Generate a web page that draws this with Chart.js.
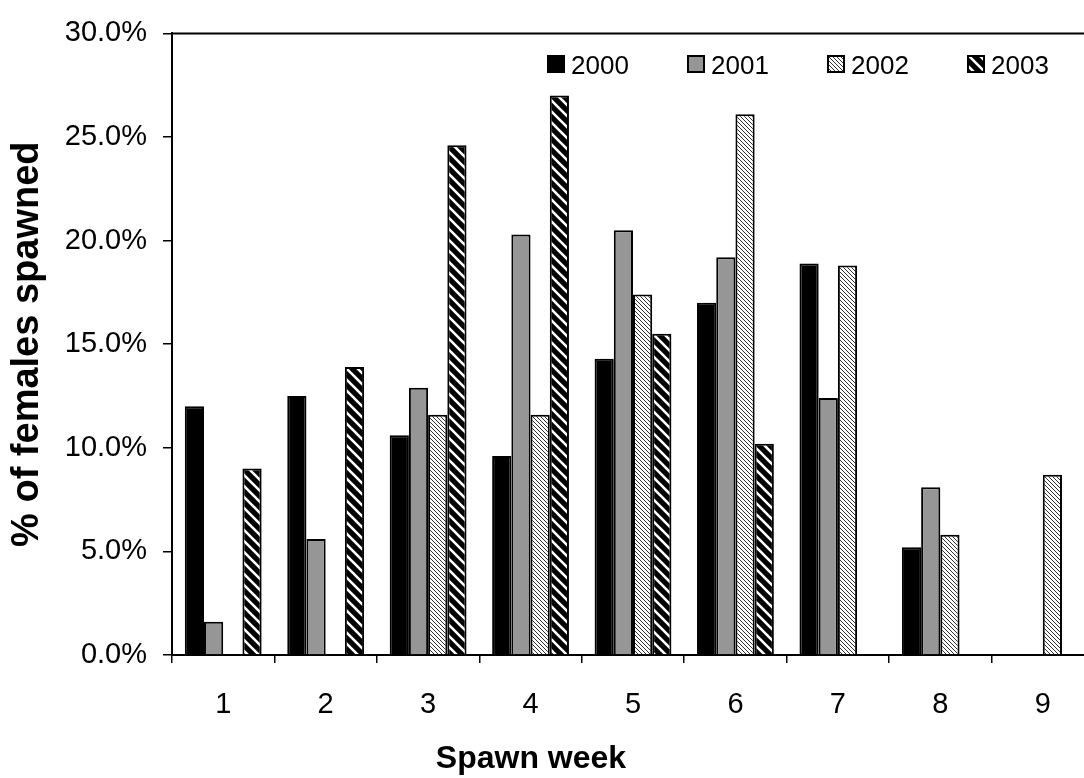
<!DOCTYPE html>
<html>
<head>
<meta charset="utf-8">
<script src="https://cdn.jsdelivr.net/npm/chart.js@4.4.1/dist/chart.umd.min.js"></script>
<style>
  html, body { margin: 0; padding: 0; background: #fff; overflow: hidden; }
  #wrap { width: 1110px; height: 778px; position: relative; }
</style>
</head>
<body>
<div id="wrap"><canvas id="c" width="1110" height="778"></canvas></div>
<script>
// ---- data ----
const weeks = ['1', '2', '3', '4', '5', '6', '7', '8', '9'];
const seriesNames = ['2000', '2001', '2002', '2003'];
const v2000 = [12.0, 12.5, 10.6, 9.6, 14.3, 17.0, 18.9, 5.2, null];
const v2001 = [1.6, 5.6, 12.9, 20.3, 20.5, 19.2, 12.4, 8.1, null];
const v2002 = [null, null, 11.6, 11.6, 17.4, 26.1, 18.8, 5.8, 8.7];
const v2003 = [9.0, 13.9, 24.6, 27.0, 15.5, 10.2, null, null, null];
const yTickValues = [0, 5, 10, 15, 20, 25, 30];
const xTitle = 'Spawn week';
const yTitle = '% of females spawned';

const FONT = "'Liberation Sans', Arial, sans-serif";

// ---- fill patterns ----
function lightDiag() {
  const c = document.createElement('canvas');
  c.width = 4; c.height = 4;
  const g = c.getContext('2d');
  g.fillStyle = '#fff'; g.fillRect(0, 0, 4, 4);
  g.fillStyle = '#333';
  for (let i = 0; i < 4; i++) g.fillRect(i, i, 1, 1);
  return g.createPattern(c, 'repeat');
}
function wideDiag() {
  const s = 11;
  const c = document.createElement('canvas');
  c.width = s; c.height = s;
  const g = c.getContext('2d');
  g.fillStyle = '#000'; g.fillRect(0, 0, s, s);
  g.strokeStyle = '#fff'; g.lineWidth = 2.6;
  g.beginPath();
  g.moveTo(-s, -s); g.lineTo(2 * s, 2 * s);
  g.moveTo(0, -s); g.lineTo(2 * s, s);
  g.moveTo(-s, 0); g.lineTo(s, 2 * s);
  g.stroke();
  return g.createPattern(c, 'repeat');
}
const fills = ['#000000', '#969696', lightDiag(), wideDiag()];
const values = [v2000, v2001, v2002, v2003];

const datasets = seriesNames.map((n, i) => ({
  label: n,
  data: values[i],
  backgroundColor: fills[i],
  borderColor: '#000',
  borderWidth: 2,
  borderSkipped: 'bottom',
  categoryPercentage: 0.75,
  barPercentage: 1.0
}));

const extras = {
  id: 'extras',
  afterDraw(chart) {
    const ctx = chart.ctx;
    const a = chart.chartArea;
    ctx.save();
    // top border of plot area
    ctx.strokeStyle = '#000'; ctx.lineWidth = 2;
    ctx.beginPath(); ctx.moveTo(a.left, a.top); ctx.lineTo(a.right, a.top); ctx.stroke();
    // legend
    const lx = [547, 687, 827, 967];
    chart.data.datasets.forEach((ds, i) => {
      ctx.fillStyle = ds.backgroundColor;
      ctx.fillRect(lx[i], 55, 18, 18);
      ctx.strokeStyle = '#000'; ctx.lineWidth = 2;
      ctx.strokeRect(lx[i] + 1, 56, 16, 16);
      ctx.fillStyle = '#000';
      ctx.font = '26px ' + FONT;
      ctx.textAlign = 'left'; ctx.textBaseline = 'middle';
      ctx.fillText(ds.label, lx[i] + 24, 67);
    });
    // x axis title
    ctx.font = 'bold 32px ' + FONT;
    ctx.textAlign = 'center'; ctx.textBaseline = 'middle';
    ctx.fillStyle = '#000';
    ctx.fillText(xTitle, 531, 759);
    ctx.restore();
  }
};

new Chart(document.getElementById('c'), {
  type: 'bar',
  data: { labels: weeks, datasets },
  options: {
    responsive: false,
    animation: false,
    devicePixelRatio: 1,
    layout: { padding: { left: 0, top: 24, right: 16, bottom: 0 } },
    plugins: { legend: { display: false }, tooltip: { enabled: false } },
    scales: {
      x: {
        offset: true,
        grid: { offset: true, drawOnChartArea: false, drawTicks: true, tickLength: 8, color: '#000', lineWidth: 1.5 },
        border: { display: true, color: '#000', width: 2 },
        ticks: { color: '#000', font: { family: FONT, size: 29 }, padding: 25, maxRotation: 0 },
        afterFit(s) { s.height = 123; }
      },
      y: {
        min: 0, max: 30,
        afterBuildTicks(s) { s.ticks = yTickValues.map(v => ({ value: v })); },
        grid: { drawOnChartArea: false, drawTicks: true, tickLength: 9, color: '#000', lineWidth: 1.5 },
        border: { display: true, color: '#000', width: 2 },
        ticks: { color: '#000', font: { family: FONT, size: 29 }, padding: 16,
                 callback: v => Number(v).toFixed(1) + '%' },
        title: { display: true, text: yTitle, color: '#000', font: { family: FONT, size: 38, weight: 'bold' }, padding: { top: 5, bottom: 0 } },
        afterFit(s) { s.width = 172; }
      }
    }
  },
  plugins: [extras]
});
</script>
</body>
</html>
